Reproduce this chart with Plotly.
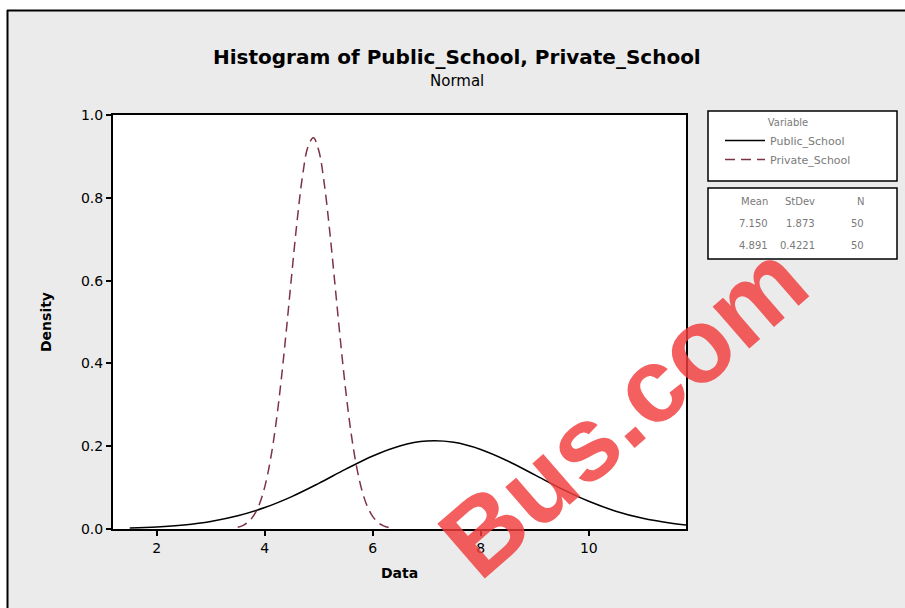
import plotly.graph_objects as go

# ---- data ----
public_x = [1.5, 2.0, 2.5, 3.0, 3.5, 4.0, 4.5, 5.0, 5.5, 6.0, 6.5, 7.0, 7.5,
            8.0, 8.5, 9.0, 9.5, 10.0, 10.5, 11.0, 11.5, 11.8]
public_density = [0.0023, 0.0049, 0.0098, 0.0183, 0.0319, 0.0518, 0.0783, 0.1102,
                  0.1445, 0.1764, 0.2006, 0.2123, 0.2093, 0.1921, 0.1643, 0.1308,
                  0.0969, 0.0669, 0.0430, 0.0258, 0.0144, 0.0098]

private_x = [3.5, 3.6, 3.7, 3.8, 3.9, 4.0, 4.1, 4.2, 4.3, 4.4, 4.5, 4.6, 4.7, 4.8,
             4.9, 5.0, 5.1, 5.2, 5.3, 5.4, 5.5, 5.6, 5.7, 5.8, 5.9, 6.0, 6.1, 6.2,
             6.3, 6.4]
private_density = [0.0041, 0.0088, 0.0176, 0.0335, 0.0600, 0.1018, 0.1632, 0.2474,
                   0.3547, 0.4805, 0.6154, 0.7452, 0.8532, 0.9234, 0.9449, 0.9141,
                   0.8360, 0.7229, 0.5910, 0.4568, 0.3338, 0.2306, 0.1506, 0.0930,
                   0.0543, 0.0300, 0.0156, 0.0077, 0.0036, 0.0016]

series_names = ["Public_School", "Private_School"]
stat_headers = ["Mean", "StDev", "N"]
stat_rows = [["7.150", "1.873", "50"], ["4.891", "0.4221", "50"]]

x_ticks = [2, 4, 6, 8, 10]
y_ticks = [0.0, 0.2, 0.4, 0.6, 0.8, 1.0]

# ---- layout geometry (pixels) ----
W, H = 905, 608
L, R, T, B = 113, 686, 115, 529
PW, PH = R - L, B - T


def px(x):
    return (x - L) / PW


def py(y):
    return (B - y) / PH


BG = "#ebebeb"
GRAY_TXT = "#7a7a7a"
PRIV_COLOR = "#7d3344"

fig = go.Figure()
fig.add_trace(go.Scatter(x=public_x, y=public_density, mode="lines",
                         name=series_names[0], line=dict(color="black", width=1.5, shape="spline")))
fig.add_trace(go.Scatter(x=private_x, y=private_density, mode="lines",
                         name=series_names[1],
                         line=dict(color=PRIV_COLOR, width=1.5, dash="10px,6px", shape="spline")))

shapes = []
# white outside strips and the frame border
shapes.append(dict(type="rect", xref="paper", yref="paper", x0=px(0), x1=px(W), y0=py(10), y1=py(0),
                   fillcolor="white", line=dict(width=0), layer="below"))
shapes.append(dict(type="rect", xref="paper", yref="paper", x0=px(0), x1=px(7), y0=py(H), y1=py(0),
                   fillcolor="white", line=dict(width=0), layer="below"))
shapes.append(dict(type="line", xref="paper", yref="paper", x0=px(7), x1=px(W), y0=py(10.5), y1=py(10.5),
                   line=dict(color="black", width=2)))
shapes.append(dict(type="line", xref="paper", yref="paper", x0=px(7.5), x1=px(7.5), y0=py(10), y1=py(H),
                   line=dict(color="black", width=2)))
# legend boxes
shapes.append(dict(type="rect", xref="paper", yref="paper", x0=px(708), x1=px(897), y0=py(181), y1=py(111),
                   fillcolor="white", line=dict(color="black", width=1.5), layer="below"))
shapes.append(dict(type="rect", xref="paper", yref="paper", x0=px(708), x1=px(897), y0=py(259), y1=py(188),
                   fillcolor="white", line=dict(color="black", width=1.5), layer="below"))

annotations = []
annotations.append(dict(text="<b>Histogram of Public_School, Private_School</b>", xref="paper", yref="paper",
                        x=px(457), y=py(57), showarrow=False, xanchor="center", yanchor="middle",
                        font=dict(family="DejaVu Sans", size=20, color="black")))
annotations.append(dict(text="Normal", xref="paper", yref="paper", x=px(457), y=py(81), showarrow=False,
                        xanchor="center", yanchor="middle",
                        font=dict(family="DejaVu Sans", size=15, color="black")))

col_right = [770, 817, 866]
row_y = [201, 223, 246]
for i, hdr in enumerate(stat_headers):
    annotations.append(dict(text=hdr, xref="paper", yref="paper", x=px(col_right[i]), y=py(row_y[0]),
                            showarrow=False, xanchor="right", yanchor="middle",
                            font=dict(family="DejaVu Sans", size=10, color=GRAY_TXT)))
for r, row in enumerate(stat_rows):
    for i, val in enumerate(row):
        annotations.append(dict(text=val, xref="paper", yref="paper", x=px(col_right[i]), y=py(row_y[r + 1]),
                                showarrow=False, xanchor="right", yanchor="middle",
                                font=dict(family="DejaVu Sans", size=10, color=GRAY_TXT)))

# watermark
annotations.append(dict(text="<b>Bus.com</b>", xref="paper", yref="paper", x=px(622), y=py(410),
                        showarrow=False, xanchor="center", yanchor="middle", textangle=-41,
                        opacity=0.82,
                        font=dict(family="Liberation Sans", size=105, color="#f23c3c")))

fig.update_layout(
    width=W, height=H,
    margin=dict(l=L, r=W - R, t=T, b=H - B, pad=0),
    paper_bgcolor=BG, plot_bgcolor="white",
    shapes=shapes, annotations=annotations,
    showlegend=True,
    legend=dict(x=px(720), y=py(113), xanchor="left", yanchor="top",
                bgcolor="rgba(0,0,0,0)", borderwidth=0,
                title=dict(text="Variable", side="top center",
                           font=dict(family="DejaVu Sans", size=10, color=GRAY_TXT)),
                font=dict(family="DejaVu Sans", size=11, color=GRAY_TXT),
                itemwidth=40, tracegroupgap=0),
    xaxis=dict(range=[1.19, 11.8], tickvals=x_ticks, ticktext=[str(v) for v in x_ticks],
               showgrid=False, zeroline=False, showline=True, linecolor="black", linewidth=2,
               mirror=True, ticks="outside", ticklen=5, tickwidth=1.5, tickcolor="black",
               tickfont=dict(family="DejaVu Sans", size=14, color="black"),
               title=dict(text="<b>Data</b>", standoff=13,
                          font=dict(family="DejaVu Sans", size=14, color="black"))),
    yaxis=dict(range=[0, 1.0], tickvals=y_ticks, ticktext=[f"{v:.1f}" for v in y_ticks],
               showgrid=False, zeroline=False, showline=True, linecolor="black", linewidth=2,
               mirror=True, ticks="outside", ticklen=5, tickwidth=1.5, tickcolor="black",
               tickfont=dict(family="DejaVu Sans", size=14, color="black"),
               title=dict(text="<b>Density</b>", standoff=26,
                          font=dict(family="DejaVu Sans", size=14, color="black"))),
)

fig.write_html("out.html", config={"displayModeBar": False},
               post_script="document.body.style.margin='0';")
